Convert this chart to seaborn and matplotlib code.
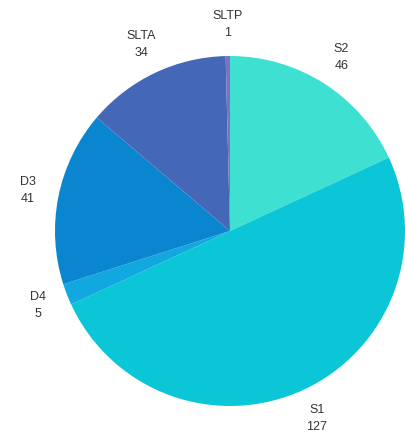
import matplotlib
matplotlib.use("Agg")
import matplotlib.pyplot as plt
import seaborn as sns

categories = ["S2", "S1", "D4", "D3", "SLTA", "SLTP"]
counts = [46, 127, 5, 41, 34, 1]
colors = ["#3EE0D2", "#0BC6D6", "#11A8E0", "#0A86D0", "#4567B8", "#7B72C4"]

sns.set_theme(style="white")
plt.rcParams["font.family"] = ["Liberation Sans", "DejaVu Sans"]

W, H, DPI = 406, 434, 100
fig = plt.figure(figsize=(W / DPI, H / DPI), dpi=DPI)
ax = fig.add_axes([0, 0, 1, 1])

labels = [f"{c}\n{v}" for c, v in zip(categories, counts)]
wedges, texts = ax.pie(
    counts,
    labels=labels,
    colors=colors,
    startangle=90,
    counterclock=False,
    labeldistance=1.18,
    wedgeprops=dict(linewidth=0),
    textprops=dict(fontsize=9, color="#333333", linespacing=1.55),
)
for t in texts:
    t.set_ha("center")
    t.set_va("center")

# pie centre at (230, 231) px from top-left, radius 175 px
cx, cy, r = 230, 231, 175
ax.set_xlim(-cx / r, (W - cx) / r)
ax.set_ylim(-(H - cy) / r, cy / r)
ax.set_aspect("auto")
ax.axis("off")

fig.savefig("out.png", dpi=DPI)
